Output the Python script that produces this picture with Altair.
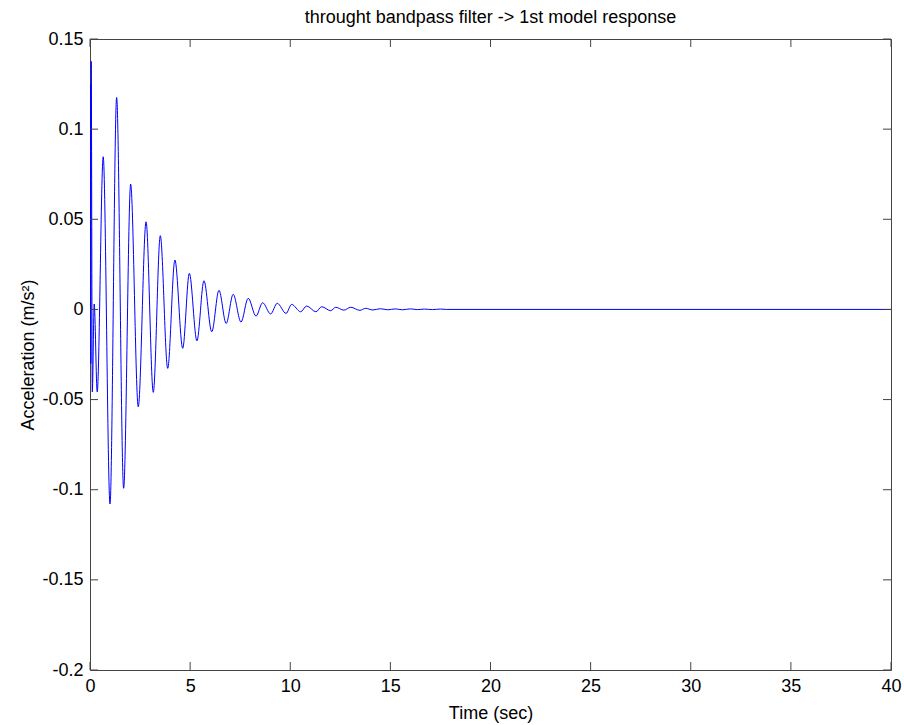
import altair as alt
import pandas as pd

TITLE = "throught bandpass filter -> 1st model response"
X_TITLE = "Time (sec)"
Y_TITLE = "Acceleration (m/s²)"

# extrema of the response (time in s, acceleration in m/s^2)
time_s = [0.0, 0.02, 0.04, 0.06, 0.115, 0.21, 0.36, 0.66, 1.00, 1.33, 1.68, 2.03,
          2.41, 2.80, 3.16, 3.51, 3.88, 4.24, 4.63, 4.96, 5.34, 5.69, 6.08, 6.44,
          6.80, 7.15, 7.54, 7.90, 8.29, 8.62, 9.02, 9.35, 9.79, 10.07, 10.52, 10.82,
          11.28, 11.57, 12.02, 12.27, 12.68, 13.02, 13.48, 13.76, 14.13, 14.5, 14.87,
          15.24, 15.6, 16.0, 16.35, 16.7, 17.1, 17.5, 17.8, 40.0]
accel = [0.0, 0.125, -0.03, 0.1376, -0.0457, 0.003, -0.0457, 0.0847, -0.1079, 0.1176,
         -0.0992, 0.0695, -0.054, 0.0486, -0.046, 0.0409, -0.0327, 0.0274, -0.0216,
         0.0200, -0.0174, 0.0159, -0.0124, 0.0106, -0.0078, 0.0084, -0.0070, 0.0062,
         -0.0037, 0.0037, -0.0025, 0.0034, -0.0022, 0.0028, -0.0013, 0.0019, -0.0013,
         0.0015, -0.0007, 0.0012, -0.0004, 0.0012, -0.0005, 0.0006, -0.0003, 0.0004,
         -0.0002, 0.0003, -0.0002, 0.0003, -0.0001, 0.0002, -0.0001, 0.0002, 0.0, 0.0]

x_ticks = [0, 5, 10, 15, 20, 25, 30, 35, 40]
y_ticks = [-0.2, -0.15, -0.1, -0.05, 0, 0.05, 0.1, 0.15]

W, H = 801, 631
FONT = "Liberation Sans"
AX = "#444444"
TICK_LEN = 8

df = pd.DataFrame({"t": time_s, "a": accel})
xt_df = pd.DataFrame({"xt": x_ticks})
yt_df = pd.DataFrame({"yt": y_ticks})

xs = alt.Scale(domain=[0, 40], nice=False, zero=False)
ys = alt.Scale(domain=[-0.2, 0.15], nice=False, zero=False)

line = alt.Chart(df).mark_line(
    color="#0000ff", strokeWidth=1, interpolate="monotone", clip=True
).encode(
    x=alt.X("t:Q", scale=xs, axis=alt.Axis(
        values=x_ticks, title=X_TITLE, tickSize=0, labelPadding=7, domain=False,
        grid=False, titleY=48, titleBaseline="alphabetic", labelFlush=False,
        labelExpr="'' + datum.value")),
    y=alt.Y("a:Q", scale=ys, axis=alt.Axis(
        values=y_ticks, title=Y_TITLE, tickSize=0, labelPadding=7, domain=False,
        grid=False, titleX=-57, titleBaseline="alphabetic", labelFlush=False,
        labelExpr="'' + datum.value")),
)

bottom = alt.Chart(xt_df).mark_rule(color=AX, strokeWidth=1).encode(
    x=alt.X("xt:Q", scale=xs, axis=None), y=alt.value(H), y2=alt.value(H - TICK_LEN))
top = alt.Chart(xt_df).mark_rule(color=AX, strokeWidth=1).encode(
    x=alt.X("xt:Q", scale=xs, axis=None), y=alt.value(0), y2=alt.value(TICK_LEN))
left = alt.Chart(yt_df).mark_rule(color=AX, strokeWidth=1).encode(
    y=alt.Y("yt:Q", scale=ys, axis=None), x=alt.value(0), x2=alt.value(TICK_LEN))
right = alt.Chart(yt_df).mark_rule(color=AX, strokeWidth=1).encode(
    y=alt.Y("yt:Q", scale=ys, axis=None), x=alt.value(W), x2=alt.value(W - TICK_LEN))

chart = alt.layer(line, bottom, top, left, right).resolve_axis(
    x="independent", y="independent"
).properties(
    width=W, height=H,
    autosize="none",
    padding={"left": 90, "top": 39, "right": 13, "bottom": 55},
    background="white",
    title=alt.Title(TITLE, fontSize=18, font=FONT, fontWeight="normal", offset=3,
                    anchor="middle", color="black"),
).configure_view(stroke=AX, strokeWidth=1).configure_axis(
    labelFont=FONT, titleFont=FONT, labelFontSize=18, titleFontSize=18,
    labelColor="black", titleColor="black", titleFontWeight="normal",
)

chart.save("out.html", embed_options={"renderer": "svg", "actions": False})
